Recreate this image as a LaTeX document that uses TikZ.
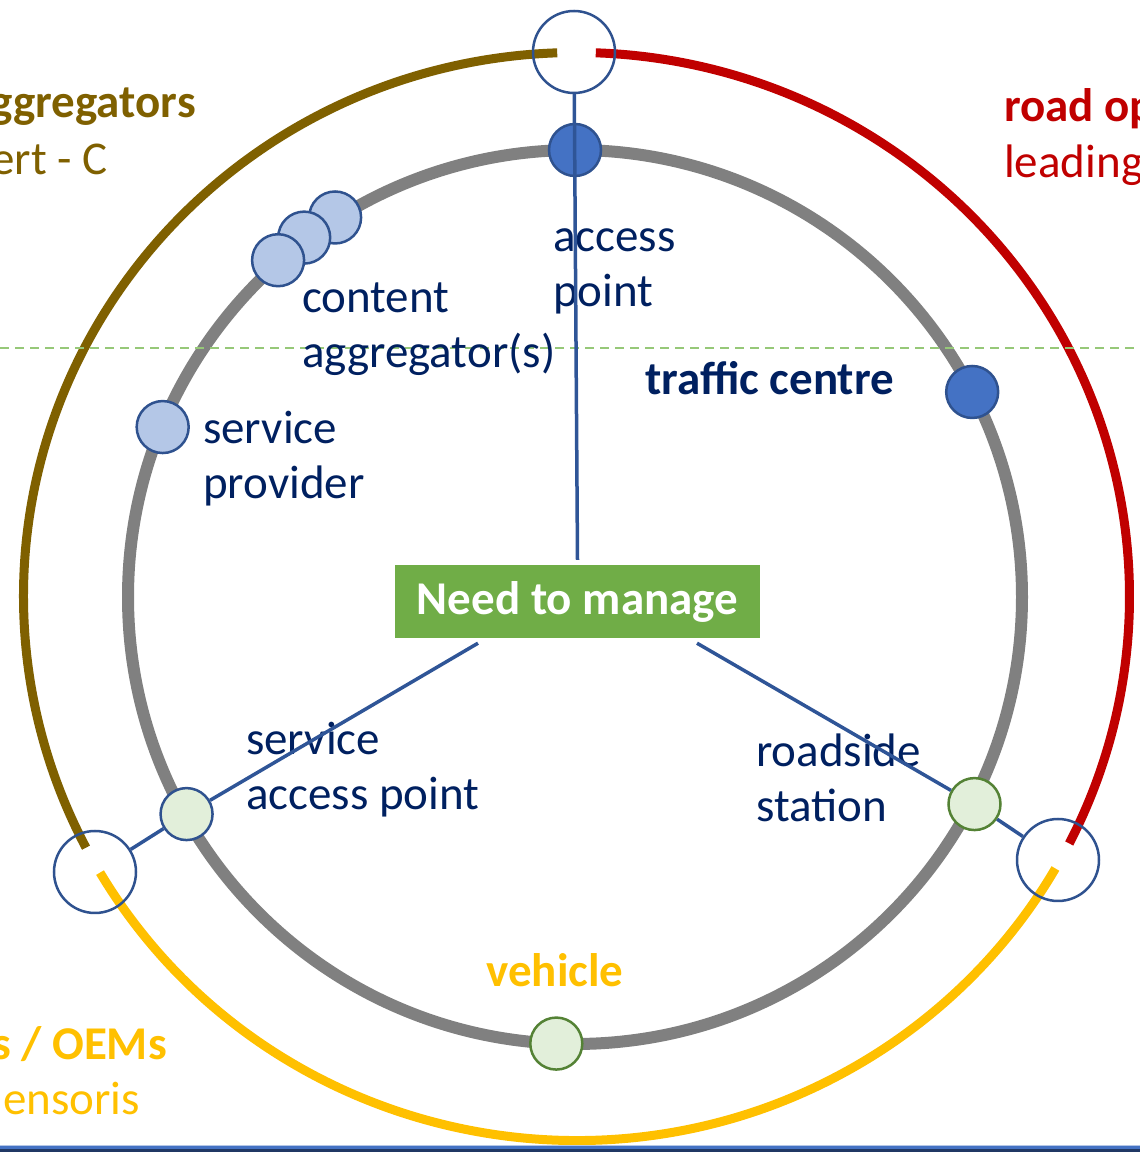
\documentclass[tikz,border=0pt]{standalone}
\usepackage{fontspec}
\setmainfont{Carlito}
\usepackage{tikz}
\usetikzlibrary{calc}
\definecolor{mybrown}{RGB}{127,96,0}
\definecolor{myred}{RGB}{192,0,0}
\definecolor{myyellow}{RGB}{255,192,0}
\definecolor{mynavy}{RGB}{0,32,96}
\definecolor{myblue}{RGB}{47,85,151}
\definecolor{myborder}{RGB}{47,82,143}
\definecolor{mymidblue}{RGB}{68,114,196}
\definecolor{mylightblue}{RGB}{180,199,231}
\definecolor{mygreen}{RGB}{112,173,71}
\definecolor{mydarkgreen}{RGB}{84,130,53}
\definecolor{mypalegreen}{RGB}{226,239,218}
\definecolor{mydash}{RGB}{150,200,120}
\definecolor{myband}{RGB}{32,56,100}

\tikzset{
  ring/.style={line width=9pt},
  dot/.style={circle, minimum size=52pt, inner sep=0pt, line width=2.5pt, draw=myborder},
  hub/.style={circle, minimum size=82pt, inner sep=0pt, line width=2.5pt, draw=myborder},
  link/.style={myblue, line width=3.5pt},
  lbl/.style={text=mynavy, font=\fontsize{47}{55}\selectfont, align=left, inner sep=0pt, anchor=base west},
  side/.style={font=\fontsize{47}{55}\selectfont, inner sep=0pt},
}

\begin{document}
\begin{tikzpicture}[x=1pt, y=1pt]
  \useasboundingbox (0,0) rectangle (1140,1152);
  \coordinate (O) at (576.5,555.5);
  \coordinate (C) at (575,555);

  % outer ring in three parts
  \draw[ring, mybrown] ($(O)+(92:553 and 544)$) arc[start angle=92, end angle=207.5, x radius=553, y radius=544];
  \draw[ring, myyellow] ($(O)+(210.5:553 and 544)$) arc[start angle=210.5, end angle=330, x radius=553, y radius=544];
  \draw[ring, myred] ($(O)+(333:553 and 544)$) arc[start angle=333, end angle=448, x radius=553, y radius=544];

  % inner ring
  \draw[gray, line width=12pt] (C) circle[radius=447];

  \draw[mydash, line width=1.5pt, dash pattern=on 9pt off 6pt] (0,804) -- (1140,804);

  % actors on the inner ring
  \node[dot, fill=mymidblue] (access) at ($(C)+(90:447)$) {};
  \node[dot, fill=mymidblue] (traffic) at ($(C)+(27.3:447)$) {};
  \node[dot, fill=mylightblue] (agg3) at ($(C)+(122.3:449)$) {};
  \node[dot, fill=mylightblue] (agg2) at ($(C)+(127:450)$) {};
  \node[dot, fill=mylightblue] (agg1) at ($(C)+(131.4:449)$) {};
  \node[dot, fill=mylightblue] (provider) at ($(C)+(157.6:446)$) {};
  \node[dot, fill=mypalegreen] (sap) at ($(C)+(209.2:445)$) {};
  \node[dot, fill=mypalegreen, draw=mydarkgreen] (rss) at ($(C)+(-27.4:450)$) {};
  \node[dot, fill=mypalegreen, draw=mydarkgreen] (vehicle) at ($(C)+(267.6:447)$) {};

  % joints on the outer ring
  \node[hub] (hubtop) at (574,1100) {};
  \node[hub] (hubleft) at (95,280) {};
  \node[hub] (hubright) at (1058,292) {};

  \node[fill=mygreen, minimum width=365pt, minimum height=73pt, inner sep=0pt, text=white,
        font=\bfseries\fontsize{47}{55}\selectfont] (manage) at (577.5,550.5) {Need to manage};

  % labels (base = last line)
  \node[lbl] (laccess) at (553,845) {access\\point};
  \node[lbl] (lagg) at (302,784) {content\\aggregator(s)};
  \node[lbl] (lprovider) at (203,653) {service\\provider};
  \node[lbl] (lsap) at (246,342) {service\\access point};
  \node[lbl] (lrss) at (756,330) {roadside\\station};
  \node[lbl, font=\bfseries\fontsize{47}{55}\selectfont] (ltraffic) at (645,757) {traffic centre};
  \node[side, text=myyellow, font=\bfseries\fontsize{47}{55}\selectfont, anchor=base] (lvehicle) at (555,165) {vehicle};

  % group names at the sides
  \node[side, text=mybrown, font=\bfseries\fontsize{47}{55}\selectfont, anchor=base east] (gagg) at (196,1034) {ggregators};
  \node[side, text=mybrown, anchor=base east] (gagg2) at (108,977) {ert - C};
  \node[side, text=myred, font=\bfseries\fontsize{47}{55}\selectfont, anchor=base west] (groad) at (1004,1030) {road op};
  \node[side, text=myred, anchor=base west] (groad2) at (1004,974) {leading};
  \node[side, text=myyellow, font=\bfseries\fontsize{47}{55}\selectfont, anchor=base east] (goem) at (167,92) {s / OEMs};
  \node[side, text=myyellow, anchor=base east] (goem2) at (140,37) {ensoris};

  % links
  \draw[link] (hubtop) -- ([yshift=5pt]manage.north);
  \draw[link] ([xshift=-99.5pt,yshift=-5pt]manage.south) -- (sap);
  \draw[link] (sap) -- (hubleft);
  \draw[link] ([xshift=119.5pt,yshift=-5pt]manage.south) -- (rss);
  \draw[link] (rss) -- (hubright);

  % band at the bottom
  \fill[myband] (0,0) rectangle (1140,3);
  \fill[mymidblue] (0,3) rectangle (1140,5.5);
  \fill[mylightblue] (0,5.5) rectangle (1140,6.5);
\end{tikzpicture}
\end{document}
